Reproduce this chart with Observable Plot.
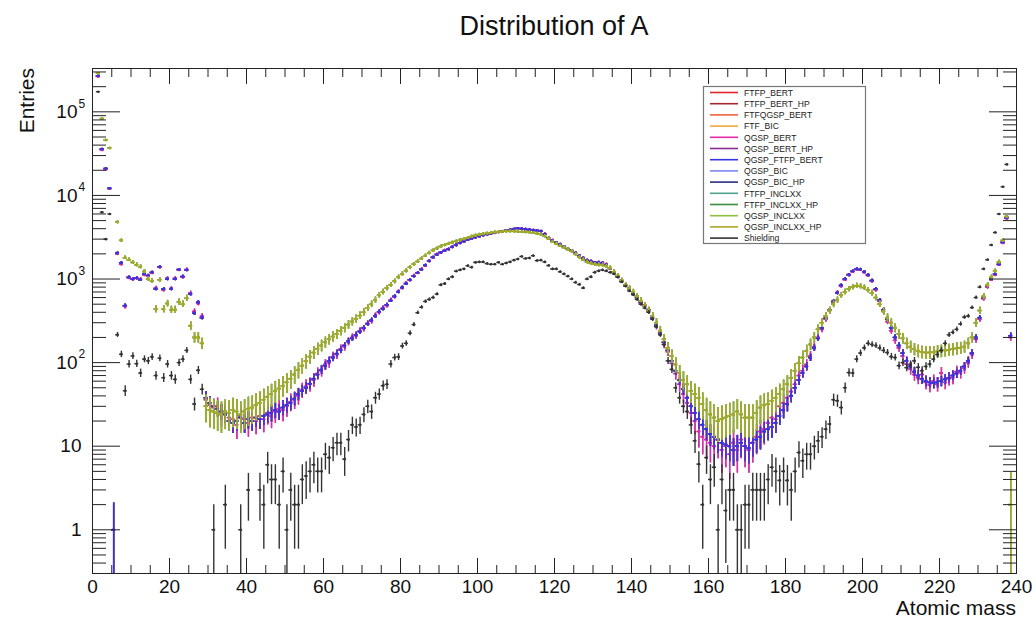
<!DOCTYPE html>
<html><head><meta charset="utf-8">
<script src="https://cdn.jsdelivr.net/npm/d3@7"></script>
<script src="https://cdn.jsdelivr.net/npm/@observablehq/plot@0.6"></script>
<style>body{margin:0;background:#fff;font-family:"Liberation Sans",Arial,sans-serif}</style>
</head><body><div id="chart"></div>
<script>
// ---------- data ----------
const seriesNames = ["FTFP_BERT","FTFP_BERT_HP","FTFQGSP_BERT","FTF_BIC","QGSP_BERT","QGSP_BERT_HP","QGSP_FTFP_BERT","QGSP_BIC","QGSP_BIC_HP","FTFP_INCLXX","FTFP_INCLXX_HP","QGSP_INCLXX","QGSP_INCLXX_HP","Shielding"];
const seriesColors = ["#e0262b","#a8262c","#f0603a","#f3a640","#e22aa8","#8a2c91","#3434e8","#7d86ee","#2c2e85","#4ea38e","#3f8c3c","#8ec03e","#a9a826","#333333"];
const seriesSource = ["bert","bert","bert","bert","bertAlt","bertAlt","bert","bert","bert","inclxx","inclxx","inclxx","inclxx","shield"];
const errWeight = {bert: 1.2, bertAlt: 2, inclxx: 4, shield: 1};
const drawOrder = [0,1,2,3,7,8,5,4,6,9,10,11,12,13];

// entries per atomic-mass bin (bin i covers [i, i+1))
const bertValues = [
0,270000,36000,21000,12200,1,2050,1560,480,1050,
1000,1030,980,1150,1100,1200,760,1400,760,1000,
760,1000,1300,1070,1280,660,390,525,345,38,
33,30,28,26,24,20,19,20,22,19,
21,20,22,21,23,24,25,27,26,29,
31,33,37,42,46,50,56,64,72,82,
92,105,115,128,142,160,180,195,215,235,
260,290,320,360,405,440,490,550,620,700,
790,880,980,1080,1190,1300,1460,1640,1820,1960,
2080,2180,2280,2420,2560,2700,2820,2950,3050,3150,
3250,3350,3430,3500,3580,3650,3720,3800,3880,3950,
4050,4000,3950,3900,3850,3800,3750,3450,3100,2900,
2750,2600,2450,2300,2200,2050,1900,1780,1680,1620,
1580,1570,1560,1480,1350,1200,1080,950,850,760,
680,600,530,480,430,340,280,225,175,140,
105,80,62,48,38,30,25,21,18,16,
14,13,12,11,10.5,10,9,10,11,10,
9.5,11,12,13,15,16,17,19,23,27,
32,40,50,62,75,90,115,150,195,260,
340,430,540,680,840,1000,1130,1240,1320,1300,
1220,1120,960,760,560,430,330,260,200,160,
130,105,90,78,70,64,60,58,57,58,
60,63,66,70,74,80,90,105,130,200,
345,600,830,1000,1150,1500,2750,5400,210,0];

const bertAltValues = [
0,265000,35000,20500,12000,0,2000,1500,470,1030,
990,1020,1000,1120,1080,1180,780,1380,740,1020,
770,1020,1280,1050,1300,680,410,510,360,36,
31,29,30,24,26,22,21,18,23,21,
19,22,20,23,21,25,23,26,28,27,
30,34,36,40,47,52,55,62,74,80,
95,100,118,125,145,155,178,200,210,240,
255,295,315,365,400,450,480,560,610,710,
780,890,970,1090,1180,1320,1440,1650,1800,1980,
2060,2200,2260,2440,2540,2720,2800,2970,3030,3170,
3230,3370,3410,3520,3560,3670,3700,3820,3860,3970,
4020,4030,3920,3930,3820,3830,3720,3480,3080,2920,
2730,2620,2430,2320,2180,2070,1880,1800,1660,1640,
1560,1590,1540,1500,1330,1220,1060,970,830,780,
660,620,510,490,410,350,270,230,165,135,
98,74,55,42,33,25,20,15,13,12,
11,10,12,9,10,8,11,9,12,10,
9,11,13,15,16,19,22,21,30,33,
38,45,55,70,80,95,120,155,200,250,
330,420,520,690,820,980,1110,1220,1300,1290,
1200,1100,940,740,540,410,310,240,185,150,
120,96,84,72,66,72,58,54,60,55,
75,58,64,66,78,76,86,100,125,190,
330,580,800,980,1120,1480,2700,5300,200,0];

const inclxxValues = [
0,290000,83000,46000,37000,0,4800,2900,1800,1700,
1580,1480,1400,1230,1000,950,436,980,436,510,
430,430,530,500,590,275,200,200,170,30,
27,26,25,24,26,25,27,26,24,26,
28,29,31,33,36,39,42,46,49,53,
58,64,72,82,92,104,118,132,146,160,
175,190,205,220,240,260,285,310,335,365,
400,450,500,560,640,700,780,850,940,1050,
1150,1260,1380,1500,1620,1760,1900,2050,2200,2320,
2450,2550,2640,2730,2820,2920,3020,3120,3220,3320,
3400,3450,3520,3580,3630,3680,3700,3720,3730,3720,
3700,3680,3650,3620,3580,3500,3420,3250,3050,2800,
2650,2500,2380,2260,2150,1980,1820,1700,1600,1540,
1500,1480,1470,1420,1360,1220,1100,960,850,770,
700,620,550,480,420,360,300,240,190,150,
120,95,75,62,55,46,42,38,32,27,
24,22,20,21,22,23,24,26,24,22,
22,22,25,29,31,32,35,38,42,48,
55,66,80,98,115,138,165,200,250,300,
360,420,500,560,640,700,760,800,830,820,
790,740,680,600,500,410,345,300,260,220,
195,170,155,145,138,134,132,132,133,136,
138,140,142,145,148,150,155,170,200,300,
420,620,850,1050,1250,1600,2900,5600,2,0];

const shieldValues = [
0,174000,6300,3000,6000,0,215,126,46,96,
120,97,75,110,105,117,70,113,66,96,
70,63,100,110,140,63,32,81,48,0,
0,1,0,0,2,0,0,0,1,0,
3,0,0,3,2,6,4,4,2,5,
1,3,2,2,4,4.4,5,6,5,5,
8,7.3,9.6,11,11,7,12,18,17,18,
24,30,26,38,42,53,55,96,115,117,
158,170,225,285,395,460,540,570,600,660,
850,880,1000,1060,1240,1280,1320,1440,1380,1580,
1600,1600,1530,1500,1500,1580,1500,1550,1600,1680,
1730,1860,1760,1780,1900,1660,1680,1600,1450,1320,
1320,1220,1150,1080,1000,910,860,780,1000,1060,
1200,1250,1280,1250,1200,1150,1050,920,820,720,
650,570,500,450,400,330,270,215,165,105,
83,50,38,30,26,18,11.6,6.1,2,7.3,
4,5.6,1,4,1.7,3,3,1,1,2,
2,3,3,3,3,4,5.6,5,3.9,5,
3.9,3,5,8.4,6.7,8,8,10,11.6,13,
16,18.4,36,35,29,50,76,75,110,130,
150,170,165,160,150,140,132,118,115,92,
100,87,95,105,88,80,90,96,110,125,
140,170,215,230,250,290,350,360,455,600,
800,1320,1700,2550,3600,6000,12700,23500,0,0];

const xMajorTicks = d3.range(0, 241, 20);
const xMinorTicks = d3.range(0, 241, 5);
const yPlainLabels = [1, 10];
const yPowerLabels = [100, 1000, 10000, 100000];
const yMajorTicks = [1, 10, 100, 1000, 10000, 100000];
const yMinorTicks = [0.3,0.4,0.5,0.6,0.7,0.8,0.9,2,3,4,5,6,7,8,9,20,30,40,50,60,70,80,90,200,300,400,500,600,700,800,900,2000,3000,4000,5000,6000,7000,8000,9000,20000,30000,40000,50000,60000,70000,80000,90000,200000,300000];

// ---------- chart ----------
const sources = {bert: bertValues, bertAlt: bertAltValues, inclxx: inclxxValues, shield: shieldValues};
const W = 1036, H = 620;
const marks = [];
for (const si of drawOrder) {
  const name = seriesNames[si];
  const vals = sources[seriesSource[si]];
  const w = errWeight[seriesSource[si]];
  const pts = [];
  vals.forEach((v, i) => {
    if (v > 0) {
      const e = Math.sqrt(w * v);
      pts.push({s: name, x0: i, x1: i + 1, xc: i + 0.5, v, lo: Math.max(v - e, 1e-3), hi: v + e});
    }
  });
  marks.push(Plot.ruleX(pts, {x: "xc", y1: "lo", y2: "hi", stroke: "s", strokeWidth: 1.4, clip: true}));
  marks.push(Plot.ruleY(pts, {x1: "x0", x2: "x1", y: "v", stroke: "s", strokeWidth: 1.4, clip: true}));
  marks.push(Plot.dot(pts, {x: "xc", y: "v", r: 1.3, fill: "s", clip: true}));
}
const tickStroke = "#222";
marks.push(
  Plot.frame({stroke: tickStroke, strokeWidth: 1}),
  Plot.axisX({anchor: "bottom", ticks: xMinorTicks, tickSize: -8, tickFormat: () => "", label: null, stroke: tickStroke}),
  Plot.axisX({anchor: "bottom", ticks: xMajorTicks, tickSize: -15, tickFormat: () => "", label: null, stroke: tickStroke}),
  Plot.axisX({anchor: "top", ticks: xMinorTicks, tickSize: -8, tickFormat: () => "", label: null, stroke: tickStroke}),
  Plot.axisX({anchor: "top", ticks: xMajorTicks, tickSize: -15, tickFormat: () => "", label: null, stroke: tickStroke}),
  Plot.axisX({anchor: "bottom", ticks: xMajorTicks, tickSize: 0, tickPadding: 6, tickFormat: d => String(d), label: null, fontSize: 19, fill: "#111"}),
  Plot.axisY({anchor: "left", ticks: yMinorTicks, tickSize: -14, tickFormat: () => "", label: null, stroke: tickStroke}),
  Plot.axisY({anchor: "left", ticks: yMajorTicks, tickSize: -28, tickFormat: () => "", label: null, stroke: tickStroke}),
  Plot.axisY({anchor: "right", ticks: yMinorTicks, tickSize: -14, tickFormat: () => "", label: null, stroke: tickStroke}),
  Plot.axisY({anchor: "right", ticks: yMajorTicks, tickSize: -28, tickFormat: () => "", label: null, stroke: tickStroke}),
  Plot.text(yPlainLabels, {y: d => d, frameAnchor: "left", text: d => String(d), textAnchor: "end", dx: -11, fontSize: 19, fill: "#111"}),
  Plot.text(yPowerLabels, {y: d => d, frameAnchor: "left", text: () => "10", textAnchor: "end", dx: -15, fontSize: 19, fill: "#111"}),
  Plot.text(yPowerLabels, {y: d => d, frameAnchor: "left", text: d => String(Math.round(Math.log10(d))), textAnchor: "start", dx: -14, dy: -8, fontSize: 12, fill: "#111"})
);

const chart = Plot.plot({
  width: W, height: H,
  marginLeft: 92, marginRight: 20, marginTop: 68, marginBottom: 47,
  style: {fontFamily: "'Liberation Sans', Arial, sans-serif", background: "#fff"},
  x: {domain: [0, 240], axis: null},
  y: {type: "log", domain: [0.3, 330000], axis: null},
  color: {domain: seriesNames, range: seriesColors},
  marks
});
document.getElementById("chart").appendChild(chart);

// titles and legend
const svg = d3.select(chart);
svg.append("text").attr("x", 554).attr("y", 35).attr("text-anchor", "middle")
  .attr("font-size", 27).attr("fill", "#111").text("Distribution of A");
svg.append("text").attr("transform", "translate(34,68) rotate(-90)").attr("text-anchor", "end")
  .attr("font-size", 21).attr("fill", "#111").text("Entries");
svg.append("text").attr("x", 1016).attr("y", 615).attr("text-anchor", "end")
  .attr("font-size", 21).attr("fill", "#111").text("Atomic mass");
const lg = svg.append("g").attr("text-anchor", "start");
lg.append("rect").attr("x", 703.5).attr("y", 86.5).attr("width", 162).attr("height", 157)
  .attr("fill", "#fff").attr("stroke", "#777").attr("stroke-width", 1.2);
seriesNames.forEach((n, i) => {
  const y = 92.5 + i * 11.2;
  lg.append("line").attr("x1", 710).attr("x2", 738).attr("y1", y).attr("y2", y)
    .attr("stroke", seriesColors[i]).attr("stroke-width", 1.6);
  lg.append("text").attr("x", 744).attr("y", y + 3.2).attr("text-anchor", "start")
    .attr("font-size", 8.6).attr("fill", "#222").text(n);
});
</script></body></html>
